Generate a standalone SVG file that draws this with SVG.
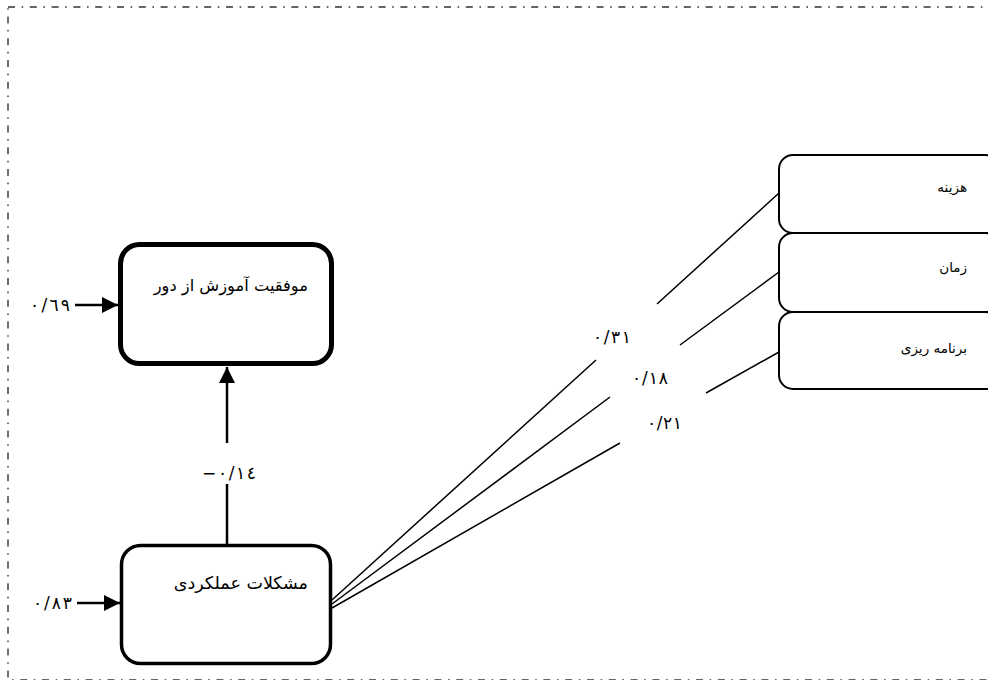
<svg xmlns="http://www.w3.org/2000/svg" width="988" height="680" viewBox="0 0 988 680">
  <style>
    .box { fill: #ffffff; stroke: #000000; }
    .lbl { font-family: "DejaVu Sans", sans-serif; font-size: 14px; fill: #000000; text-anchor: end; }
    .num { font-family: "DejaVu Sans", sans-serif; font-size: 17px; fill: #000000; }
    .conn { fill: none; stroke: #000000; stroke-width: 1.5; }
    .arr { fill: none; stroke: #000000; stroke-width: 2.5; }
  </style>
  <defs>
    <marker id="ah" viewBox="0 0 10 10" refX="10" refY="5" markerWidth="16" markerHeight="16" markerUnits="userSpaceOnUse" orient="auto">
      <path d="M0,0 L10,5 L0,10 Z" fill="#000000"/>
    </marker>
  </defs>
  <rect width="988" height="680" fill="#ffffff"/>
  <rect id="frame" x="8" y="7" width="992" height="673" fill="none" stroke="#333333" stroke-width="1.4" stroke-dasharray="7 6.6 1.6 6.6"/>

  <g id="connectors">
    <path class="conn" d="M332,600 L596,360 M657,304 L779,193"/>
    <path class="conn" d="M332,604 L610,397 M680,345 L779,272"/>
    <path class="conn" d="M332,608 L620,443 M706,393 L779,352"/>
    <path class="arr" d="M227,545 L227,484 M227,443 L227,367" marker-end="url(#ah)"/>
    <path class="arr" d="M75,305 L118,305" marker-end="url(#ah)"/>
    <path class="arr" d="M77,603 L120,603" marker-end="url(#ah)"/>
  </g>

  <g id="node-success">
    <rect class="box" x="120.5" y="244.5" width="211" height="119" rx="19" stroke-width="5"/>
    <text class="lbl" x="308" y="291" style="font-size:16.3px">موفقیت آموزش از دور</text>
  </g>
  <g id="node-problems">
    <rect class="box" x="121.5" y="545.5" width="209" height="118" rx="19" stroke-width="3.5"/>
    <text class="lbl" x="308" y="589" style="font-size:17.5px">مشکلات عملکردی</text>
  </g>
  <g id="node-cost">
    <rect class="box" x="779" y="155" width="220" height="78" rx="14" stroke-width="2"/>
    <text class="lbl" x="967" y="192" style="font-size:13.5px">هزینه</text>
  </g>
  <g id="node-time">
    <rect class="box" x="779" y="233" width="220" height="79" rx="14" stroke-width="2"/>
    <text class="lbl" x="967" y="272" style="font-size:13.5px">زمان</text>
  </g>
  <g id="node-planning">
    <rect class="box" x="779" y="312" width="220" height="77" rx="14" stroke-width="2"/>
    <text class="lbl" x="967" y="353" style="font-size:13.5px">برنامه ریزی</text>
  </g>

  <g id="labels">
    <text class="num" x="30" y="311" textLength="40" lengthAdjust="spacing">٠/٦٩</text>
    <text class="num" x="33" y="609" textLength="39" lengthAdjust="spacing">٠/٨٣</text>
    <text class="num" x="202" y="479" textLength="54" lengthAdjust="spacing">−٠/١٤</text>
    <text class="num" x="593" y="343" textLength="38" lengthAdjust="spacing">٠/٣١</text>
    <text class="num" x="632" y="384" textLength="36" lengthAdjust="spacing">٠/١٨</text>
    <text class="num" x="647" y="429" textLength="35" lengthAdjust="spacing">٠/٢١</text>
  </g>
</svg>
